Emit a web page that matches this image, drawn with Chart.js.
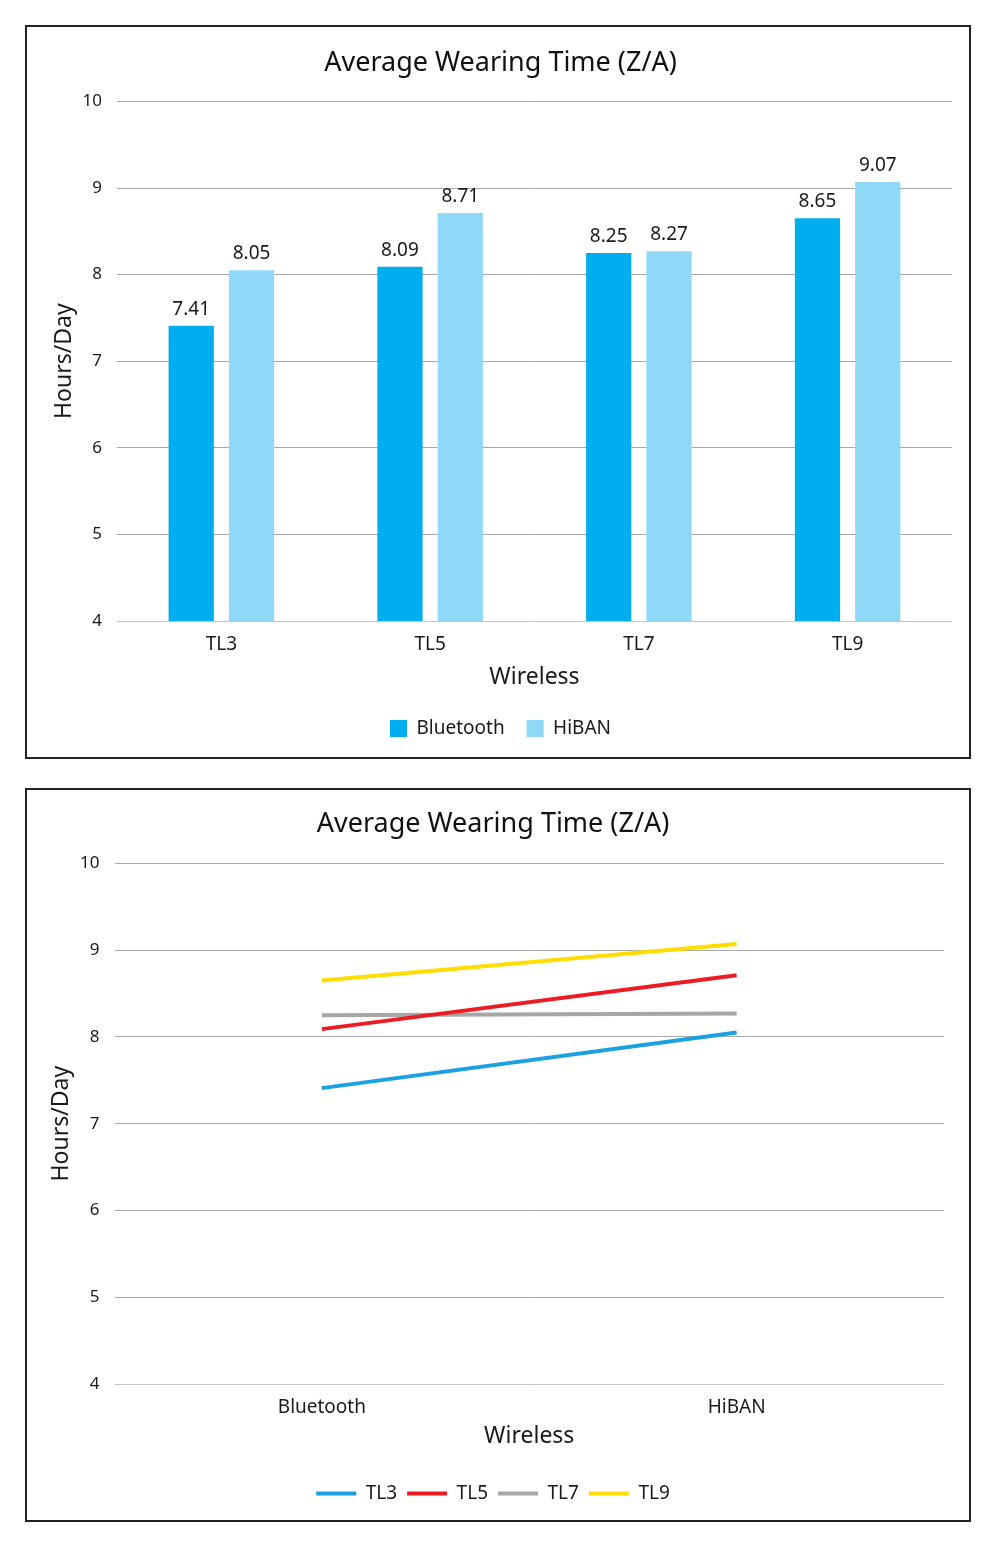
<!DOCTYPE html>
<html>
<head>
<meta charset="utf-8">
<script src="https://cdn.jsdelivr.net/npm/chart.js@4.4.1/dist/chart.umd.min.js"></script>
<style>
  body { margin: 0; background: #fff; }
  .box { position: absolute; left: 25px; width: 942px; height: 730px; border: 2px solid #222; }
  #box1 { top: 25px; }
  #box2 { top: 788px; }
  canvas { display: block; }
</style>
</head>
<body>
<div class="box" id="box1"><canvas id="barChart" width="942" height="730"></canvas></div>
<div class="box" id="box2"><canvas id="lineChart" width="942" height="730"></canvas></div>
<script>
var chartTitle = 'Average Wearing Time (Z/A)';
var yTicks = [4, 5, 6, 7, 8, 9, 10];

var barCategories = ['TL3', 'TL5', 'TL7', 'TL9'];
var bluetoothHours = [7.41, 8.09, 8.25, 8.65];
var hibanHours = [8.05, 8.71, 8.27, 9.07];

var lineCategories = ['Bluetooth', 'HiBAN'];
var tl3Hours = [7.41, 8.05];
var tl5Hours = [8.09, 8.71];
var tl7Hours = [8.25, 8.27];
var tl9Hours = [8.65, 9.07];

var fontFamily = '"Noto Sans", "Open Sans", sans-serif';
Chart.defaults.font.family = fontFamily;
Chart.defaults.color = '#1a1a1a';

// value labels over the bars
var barValues = {
    id: 'barValues',
    afterDatasetsDraw: function(chart) {
        var ctx = chart.ctx;
        ctx.save();
        ctx.font = '19px ' + fontFamily;
        ctx.fillStyle = '#1a1a1a';
        ctx.textAlign = 'center';
        ctx.textBaseline = 'bottom';
        chart.data.datasets.forEach(function(ds, i) {
            chart.getDatasetMeta(i).data.forEach(function(bar, j) {
                ctx.fillText(ds.data[j].toFixed(2), bar.x, bar.y - 7);
            });
        });
        ctx.restore();
    }
};

function makeScales(o) {
    return {
        x: {
            offset: true,
            grid: { display: false, drawTicks: false },
            border: { display: false },
            ticks: { font: { size: 19 }, padding: o.tickPad },
            title: { display: true, text: 'Wireless', font: { size: 23 }, padding: { top: 0, bottom: o.xTitlePad } },
            afterFit: function(scale) { scale.height = o.xHeight; }
        },
        y: {
            min: 4,
            max: 10,
            afterBuildTicks: function(scale) {
                scale.ticks = yTicks.map(function(v) { return { value: v }; });
            },
            grid: {
                drawTicks: false,
                color: function(c) { return c.tick && c.tick.value === 4 ? '#c4c4c4' : '#a8a8a8'; }
            },
            border: { display: false },
            ticks: { font: { size: 17 }, padding: 15 },
            title: { display: true, text: 'Hours/Day', font: { size: 23 }, padding: { top: o.yTitlePad, bottom: 0 } },
            afterFit: function(scale) { scale.width = o.yWidth; }
        }
    };
}

function makeTitle(top, bottom) {
    return {
        display: true,
        text: chartTitle,
        color: '#111',
        font: { size: 27, weight: 'normal' },
        padding: { top: top, bottom: bottom }
    };
}

new Chart(document.getElementById('barChart'), {
    type: 'bar',
    data: {
        labels: barCategories,
        datasets: [{
            label: 'Bluetooth',
            data: bluetoothHours,
            backgroundColor: '#00aeef',
            categoryPercentage: 0.578,
            barPercentage: 0.75
        }, {
            label: 'HiBAN',
            data: hibanHours,
            backgroundColor: '#8fd8f8',
            categoryPercentage: 0.578,
            barPercentage: 0.75
        }]
    },
    options: {
        responsive: false,
        animation: false,
        layout: { padding: { left: 22, right: 17, top: 0, bottom: 9 } },
        scales: makeScales({ tickPad: 12, xTitlePad: 6, xHeight: 76, yWidth: 68, yTitlePad: 2 }),
        plugins: {
            title: makeTitle(20, 22),
            legend: {
                position: 'bottom',
                labels: { boxWidth: 17, boxHeight: 17, font: { size: 19 }, padding: 22 }
            },
            tooltip: { enabled: false }
        }
    },
    plugins: [barValues]
});

new Chart(document.getElementById('lineChart'), {
    type: 'line',
    data: {
        labels: lineCategories,
        datasets: [
            { label: 'TL3', data: tl3Hours, borderColor: '#1ba1e2', backgroundColor: '#1ba1e2', borderWidth: 4 },
            { label: 'TL5', data: tl5Hours, borderColor: '#ed1c24', backgroundColor: '#ed1c24', borderWidth: 4 },
            { label: 'TL7', data: tl7Hours, borderColor: '#a6a6a6', backgroundColor: '#a6a6a6', borderWidth: 4 },
            { label: 'TL9', data: tl9Hours, borderColor: '#ffdd00', backgroundColor: '#ffdd00', borderWidth: 4 }
        ]
    },
    options: {
        responsive: false,
        animation: false,
        layout: { padding: { left: 15, right: 25, top: 0, bottom: 7 } },
        elements: {
            line: { tension: 0 },
            point: { radius: 0 }
        },
        scales: makeScales({ tickPad: 12, xTitlePad: 24, xHeight: 90, yWidth: 72.5, yTitlePad: 6 }),
        plugins: {
            title: makeTitle(18, 23),
            legend: {
                position: 'bottom',
                labels: {
                    usePointStyle: true,
                    pointStyle: 'line',
                    pointStyleWidth: 40,
                    boxWidth: 35,
                    boxHeight: 18,
                    font: { size: 19 },
                    padding: 10
                }
            },
            tooltip: { enabled: false }
        }
    }
});
</script>
</body>
</html>
